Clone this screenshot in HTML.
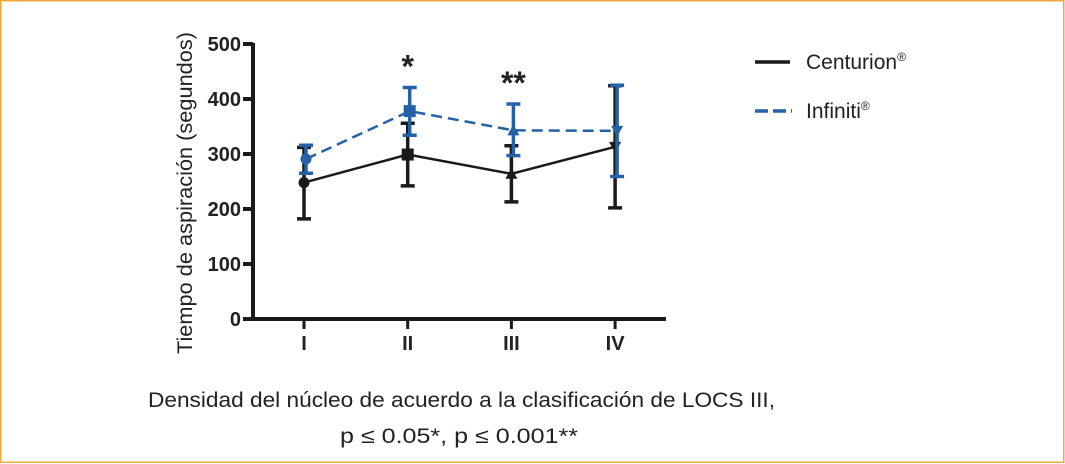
<!DOCTYPE html>
<html><head><meta charset="utf-8"><style>
html,body{margin:0;padding:0;background:#fff}
svg{display:block;font-family:"Liberation Sans",Arial,sans-serif}
</style></head><body>
<svg id="chart" width="1065" height="464" viewBox="0 0 1065 464">
<rect x="0.75" y="0.75" width="1063" height="461.5" fill="#fff" stroke="#f0a83a" stroke-width="1.5"/>
<g id="axes"></g>
<g id="series"></g>
<text x="0" y="0" transform="translate(192,193) rotate(-90)" text-anchor="middle" font-size="21" textLength="322" lengthAdjust="spacingAndGlyphs" fill="#222">Tiempo de aspiración (segundos)</text>
<text x="148" y="407" font-size="21" textLength="627" lengthAdjust="spacingAndGlyphs" fill="#222">Densidad del núcleo de acuerdo a la clasificación de LOCS III,</text>
<text x="340" y="443" font-size="21" textLength="238" lengthAdjust="spacingAndGlyphs" fill="#222">p ≤ 0.05*, p ≤ 0.001**</text>
<g>
<line x1="755" y1="62" x2="790" y2="62" stroke="#1a1a1a" stroke-width="3.5"/>
<text x="806" y="69" font-size="21" fill="#222">Centurion<tspan font-size="12" dy="-8">®</tspan></text>
<line x1="755" y1="111" x2="792" y2="111" stroke="#2461a8" stroke-width="3.5" stroke-dasharray="13,5"/>
<text x="806" y="118" font-size="21" fill="#222">Infiniti<tspan font-size="12" dy="-8">®</tspan></text>
</g>
</svg>
<script>
const categories = ["I","II","III","IV"];
const yTicks = [0,100,200,300,400,500];
const centurionMean = [248,299,264,313];
const centurionLow = [182,242,213,202];
const centurionHigh = [312,356,315,424];
const infinitiMean = [291,378,343,342];
const infinitiLow = [265,334,297,259];
const infinitiHigh = [316,421,391,425];
const sigLabels = ["","*","**",""];

const NS="http://www.w3.org/2000/svg";
const y = v => 319 - v*0.55;
const x = i => 304 + i*103.7;
function mk(tag, attrs, parent){const e=document.createElementNS(NS,tag);for(const k in attrs)e.setAttribute(k,attrs[k]);parent.appendChild(e);return e;}
const axes=document.getElementById('axes'), ser=document.getElementById('series');

let a=mk('line',{x1:253,y1:y(500)-1,x2:253,y2:y(0)+2,stroke:'#1a1a1a','stroke-width':4},axes);


a=mk('line',{x1:251,y1:y(0),x2:666,y2:y(0),stroke:'#1a1a1a','stroke-width':4},axes);


yTicks.forEach(t=>{
  let l=mk('line',{x1:243,y1:y(t),x2:253,y2:y(t),stroke:'#1a1a1a','stroke-width':4},axes);
  
  
  let tx=mk('text',{x:241,y:y(t)+7,'text-anchor':'end','font-size':20,'font-weight':'bold',fill:'#222'},axes);
  tx.textContent=t;
  
  
});
categories.forEach((c,i)=>{
  let l=mk('line',{x1:x(i),y1:y(0),x2:x(i),y2:y(0)+10,stroke:'#1a1a1a','stroke-width':3},axes);
  
  
  let tx=mk('text',{x:x(i),y:350,'text-anchor':'middle','font-size':20,'font-weight':'bold',fill:'#222'},axes);
  tx.textContent=c;
  
  
  if(sigLabels[i]){
    let s=mk('text',{x:x(i)+(sigLabels[i].length>1?2:0),y:y(infinitiHigh[i])-10,'text-anchor':'middle','font-size':32,'font-weight':'bold',fill:'#222'},axes);
    s.textContent=sigLabels[i];
    
    
  }
});
function drawSeries(name,mean,lo,hi,color,dash,off){
  const g=mk('g',{},ser);
  
  
  mean.forEach((m,i)=>{
    const cx=x(i)+off;
    const e=mk('path',{d:`M${cx},${y(lo[i])}V${y(hi[i])}M${cx-7},${y(lo[i])}h14M${cx-7},${y(hi[i])}h14`,stroke:color,'stroke-width':3.5,fill:'none'},g);
    
    
  });
  const p=mk('polyline',{points:mean.map((m,i)=>`${x(i)+off},${y(m)}`).join(' '),stroke:color,'stroke-width':2.5,fill:'none'},g);
  if(dash)p.setAttribute('stroke-dasharray',dash);
  
  
  mean.forEach((m,i)=>{
    const cx=x(i)+off, cy=y(m); let mkr;
    if(i===0) mkr=mk('circle',{cx,cy,r:5.5,fill:color},g);
    else if(i===1) mkr=mk('rect',{x:cx-6,y:cy-6,width:12,height:12,fill:color},g);
    else if(i===2) mkr=mk('path',{d:`M${cx},${cy-6}L${cx+6},${cy+5}L${cx-6},${cy+5}Z`,fill:color},g);
    else mkr=mk('path',{d:`M${cx},${cy+6}L${cx+6},${cy-5}L${cx-6},${cy-5}Z`,fill:color},g);
    
    
  });
}
drawSeries('centurion',centurionMean,centurionLow,centurionHigh,'#1a1a1a',null,0);
drawSeries('infiniti',infinitiMean,infinitiLow,infinitiHigh,'#2461a8','11,6',2);
</script>
</body></html>
